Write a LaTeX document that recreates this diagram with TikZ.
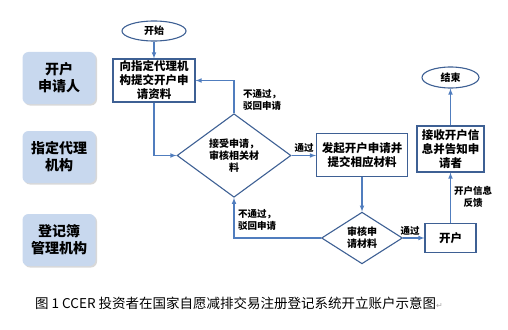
\documentclass[tikz,border=0pt]{standalone}
\usepackage{fontspec}
\setmainfont{Noto Sans CJK SC}
\newfontfamily\symfont{DejaVu Sans}
\usetikzlibrary{shapes.geometric,shadows}
\definecolor{edgeblue}{RGB}{62,96,148}
\definecolor{arrblue}{RGB}{80,125,190}
\definecolor{rolefill}{RGB}{200,216,238}
\tikzset{
  role/.style={rectangle, rounded corners=6pt, fill=rolefill, draw=none,
    drop shadow={shadow xshift=1.5pt, shadow yshift=-1.5pt, fill=black!30},
    minimum width=73pt, minimum height=52pt, align=center,
    font=\fontsize{14}{17}\selectfont\bfseries},
  proc/.style={rectangle, draw=edgeblue, line width=1.1pt, align=center,
    inner sep=1pt, font=\fontsize{11.5}{14}\selectfont\bfseries},
  decide/.style={diamond, draw=edgeblue, line width=1.1pt, align=center,
    inner sep=0pt, font=\fontsize{10}{12}\selectfont\bfseries},
  term/.style={ellipse, draw=edgeblue, line width=1.1pt, inner sep=0pt,
    font=\fontsize{10}{12}\selectfont\bfseries},
  arr/.style={-latex, draw=arrblue, line width=1.1pt},
  lbl/.style={font=\fontsize{9.5}{12}\selectfont\bfseries, align=left, inner sep=0pt}
}
\begin{document}
\begin{tikzpicture}[x=1pt, y=-1pt]
  \useasboundingbox (0,0) rectangle (508,329);

  % roles
  \node[role] (r1) at (59,78) {开户\\申请人};
  \node[role] (r2) at (59,157) {指定代理\\机构};
  \node[role] (r3) at (59,240) {登记簿\\管理机构};

  % flow
  \node[term, minimum width=64pt, minimum height=20pt] (start) at (154,31) {开始};
  \node[proc, minimum width=82pt, minimum height=43pt] (b1) at (154,80.5) {向指定代理机\\构提交开户申\\请资料};
  \node[decide, minimum width=114pt, minimum height=52pt] (d1) at (234,155.5) {接受申请，\\审核相关材\\料};
  \node[proc, minimum width=91pt, minimum height=43pt] (b2) at (362,155) {发起开户申请并\\提交相应材料};
  \node[decide, minimum width=81pt, minimum height=36pt] (d2) at (362,238) {审核申\\请材料};
  \node[proc, minimum width=51pt, minimum height=29pt] (kh) at (450.5,238) {开户};
  \node[proc, minimum width=67pt, minimum height=46pt] (b3) at (450.5,149) {接收开户信\\息并告知申\\请者};
  \node[term, minimum width=57pt, minimum height=21pt] (end) at (450.5,77.5) {结束};

  \draw[arr] (start) -- (b1);
  \draw[arr] (b1.south) |- (d1.west);
  \draw[arr] (d1.north) |- (b1.east);
  \draw[arr] (d1.east) -- (b2.west |- d1.east);
  \draw[arr] (b2) -- (d2);
  \draw[arr] (d2.west) -| (d1.south);
  \draw[arr] (d2) -- (kh);
  \draw[arr] (kh) -- (b3);
  \draw[arr] (b3) -- (end);

  % labels
  \node[lbl, anchor=west] (n1) at (243,100) {不通过，\\驳回申请};
  \node[lbl, anchor=south] (p1) at (304,153) {通过};
  \node[lbl, anchor=west] (n2) at (238,220) {不通过，\\驳回申请};
  \node[lbl, anchor=south] (p2) at (410,236) {通过};
  \node[lbl, anchor=west, align=center] (fb) at (454,197) {开户信息\\反馈};

  % caption
  \node[anchor=west, inner sep=0pt, font=\fontsize{13.5}{16}\selectfont] (cap) at (35,303)
    {图 1 CCER 投资者在国家自愿减排交易注册登记系统开立账户示意图{\symfont\color{black!35}\fontsize{8}{10}\selectfont ↵}};
\end{tikzpicture}
\end{document}
